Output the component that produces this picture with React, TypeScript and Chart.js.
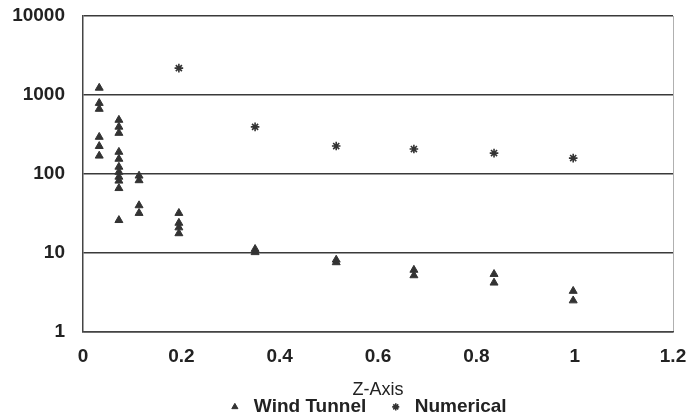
import React, { useEffect, useRef } from "react";
import { Chart, registerables } from "chart.js";

Chart.register(...registerables);

// Wind tunnel measurements (Z position, value)
const windTunnelZ = [
  0.033, 0.033, 0.033, 0.033, 0.033, 0.033,
  0.073, 0.073, 0.073, 0.073, 0.073, 0.073, 0.073, 0.073, 0.073, 0.073, 0.073,
  0.114, 0.114, 0.114, 0.114,
  0.195, 0.195, 0.195, 0.195,
  0.35, 0.35,
  0.515, 0.515,
  0.673, 0.673,
  0.836, 0.836,
  0.997, 0.997,
];
const windTunnelValues = [
  1230, 790, 665, 294, 225, 170,
  483, 395, 330, 190, 155, 123, 106, 92, 82, 66, 26,
  95, 83, 40, 32,
  32, 24, 21, 17.7,
  11.2, 10.2,
  8.2, 7.6,
  6.1, 5.2,
  5.4, 4.2,
  3.3, 2.5,
];

// Numerical results
const numericalZ = [0.195, 0.35, 0.515, 0.673, 0.836, 0.997];
const numericalValues = [2190, 395, 226, 207, 184, 159];

const yTickValues = [1, 10, 100, 1000, 10000];
const xTickStep = 0.2;

const FONT = "'Liberation Sans', Arial, Helvetica, sans-serif";

// Shift the legend a little to the left, as in the reference
const legendShift = {
  id: "legendShift",
  afterLayout(chart: any) {
    const lg = chart.legend;
    if (!lg) return;
    lg.left -= 12;
    lg.right -= 12;
  },
};

export default function App() {
  const ref = useRef<HTMLCanvasElement>(null);

  useEffect(() => {
    document.body.style.margin = "0";
    const canvas = ref.current;
    if (!canvas) return;
    Chart.defaults.font.family = FONT;

    const chart = new Chart(canvas, {
      type: "scatter",
      data: {
        datasets: [
          {
            label: "Wind Tunnel",
            data: windTunnelZ.map((x, i) => ({ x, y: windTunnelValues[i] })),
            pointStyle: "triangle",
            pointRadius: 4.6,
            backgroundColor: "#333333",
            borderColor: "#333333",
            borderWidth: 1,
          },
          {
            label: "Numerical",
            data: numericalZ.map((x, i) => ({ x, y: numericalValues[i] })),
            pointStyle: "star",
            pointRadius: 4.3,
            backgroundColor: "#333333",
            borderColor: "#333333",
            borderWidth: 1.6,
          },
        ],
      },
      plugins: [legendShift],
      options: {
        animation: false,
        responsive: false,
        layout: { padding: { left: 0, right: 17, top: 16, bottom: -7.4 } },
        plugins: {
          tooltip: { enabled: false },
          legend: {
            position: "bottom",
            fullSize: false,
            labels: {
              usePointStyle: true,
              boxWidth: 19,
              boxHeight: 5,
              padding: 20,
              color: "#222222",
              font: { size: 19, weight: "bold", family: FONT },
            },
          },
        },
        scales: {
          x: {
            type: "linear",
            min: 0,
            max: 1.2,
            ticks: {
              stepSize: xTickStep,
              padding: 0,
              color: "#222222",
              font: { size: 19, weight: "bold", family: FONT },
              callback: (v: any) => String(Number(Number(v).toFixed(1))),
            },
            grid: {
              drawTicks: true,
              tickLength: 13,
              tickColor: "rgba(0,0,0,0)",
              color: (ctx: any) =>
                ctx.tick && Math.abs(ctx.tick.value - 1.2) < 1e-6 ? "#b0b0b0" : "rgba(0,0,0,0)",
              lineWidth: 1,
            },
            border: { display: true, color: "#444444", width: 1.5 },
            title: {
              display: true,
              text: "Z-Axis",
              color: "#222222",
              font: { size: 18, weight: "normal", family: FONT },
              padding: { top: 11, bottom: -23 },
            },
          },
          y: {
            type: "logarithmic",
            min: 1,
            max: 10000,
            afterBuildTicks: (axis: any) => {
              axis.ticks = yTickValues.map((v) => ({ value: v }));
            },
            afterFit: (axis: any) => {
              axis.width = 83;
            },
            ticks: {
              padding: 0,
              color: "#222222",
              font: { size: 19, weight: "bold", family: FONT },
              callback: (v: any) => String(v),
            },
            grid: {
              drawTicks: true,
              tickLength: 18,
              tickColor: "rgba(0,0,0,0)",
              color: "#3a3a3a",
              lineWidth: 1.5,
            },
            border: { display: true, color: "#444444", width: 1.5 },
          },
        },
      },
    });

    return () => chart.destroy();
  }, []);

  return <canvas ref={ref} width={690} height={419} style={{ display: "block" }} />;
}
